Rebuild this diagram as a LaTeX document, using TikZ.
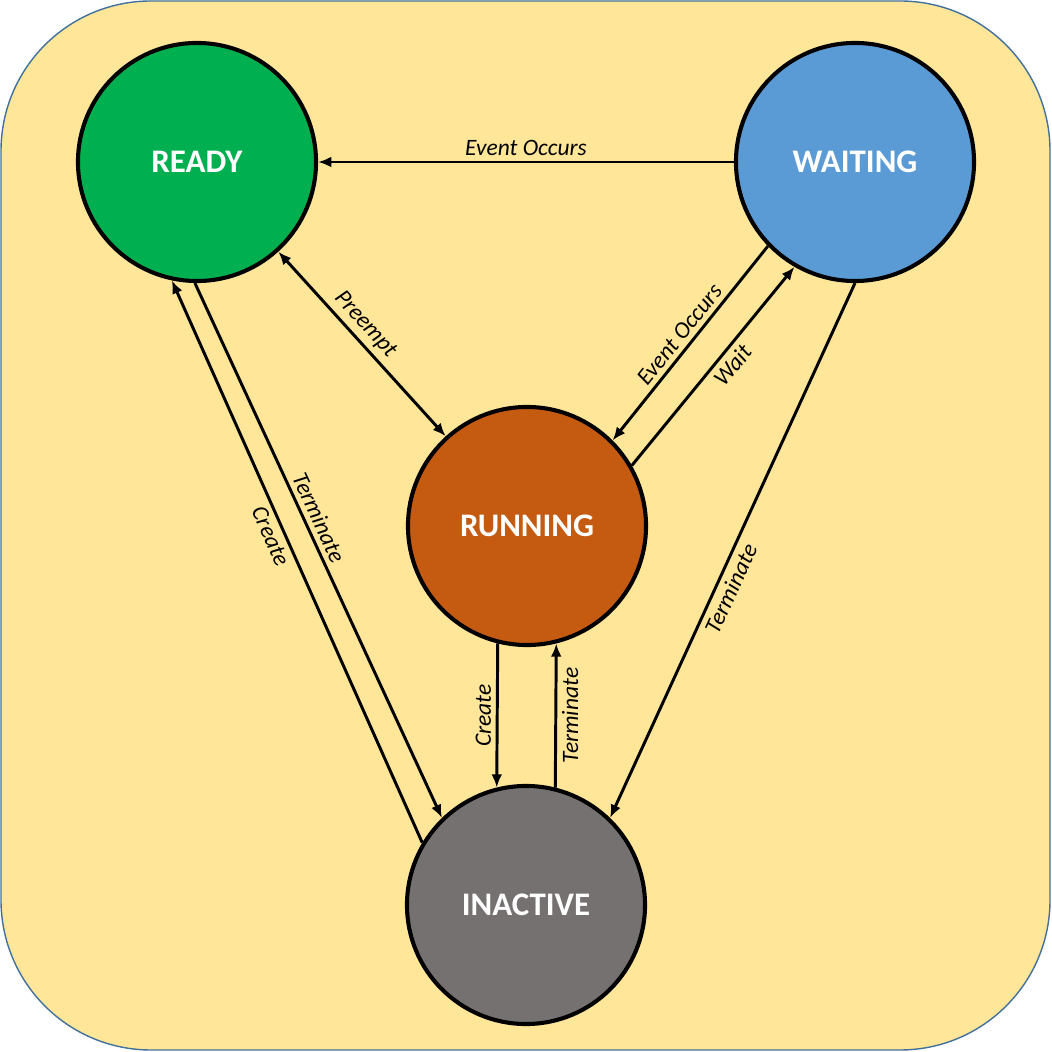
\documentclass[tikz,border=0pt]{standalone}
\usepackage{fontspec}
\setmainfont{Carlito}
\usetikzlibrary{arrows.meta}

\definecolor{panelyellow}{HTML}{FFE699}
\definecolor{panelblue}{HTML}{41719C}
\definecolor{readygreen}{HTML}{00B050}
\definecolor{waitingblue}{HTML}{5B9BD5}
\definecolor{runningorange}{HTML}{C55A11}
\definecolor{inactivegray}{HTML}{767171}

\begin{document}
\begin{tikzpicture}[x=0.025cm, y=0.025cm,
    >={Latex[length=0.33cm,width=0.27cm]},
    state/.style={circle, draw=black, line width=2.9pt, minimum size=5.95cm,
        text=white, font=\fontsize{23.4}{28}\selectfont\bfseries},
    trans/.style={line width=2.1pt},
    lbl/.style={font=\fontsize{16.7}{20}\selectfont\itshape, sloped},
    vlbl/.style={font=\fontsize{16.7}{20}\selectfont\itshape, rotate=90}]
    % Fix the page size
    \useasboundingbox (0,0) rectangle (1052,1052);

    % Shade the panel
    \draw[fill=panelyellow, draw=panelblue, line width=1pt, rounded corners=3.75cm] (1,2) rectangle (1050,1051);

    % Place the states
    \node[state, fill=readygreen] (ready) at (197,890) {READY};
    \node[state, fill=waitingblue] (waiting) at (855,890) {WAITING};
    \node[state, fill=runningorange] (running) at (527,526) {RUNNING};
    \node[state, fill=inactivegray] (inactive) at (526,147) {INACTIVE};

    % Transitions between ready, waiting and running
    \draw[trans, ->] (waiting) -- node[lbl, above] {Event Occurs} (ready);
    \draw[trans, <->] (ready) -- node[lbl, above, pos=0.45] {Preempt} (running);
    \draw[trans, ->] (waiting.224) -- node[lbl, above] {Event Occurs} (running.45);
    \draw[trans, ->] (running.30) -- node[lbl, below, pos=0.55] {Wait} (waiting.240);

    % Transitions to and from inactive
    \draw[trans, ->] (waiting.270) -- node[lbl, below, pos=0.56] {Terminate} (inactive.46);
    \draw[trans, ->] (running.256) -- node[vlbl, anchor=south] {Create} (inactive.104);
    \draw[trans, ->] (inactive.76) -- node[vlbl, anchor=north] {Terminate} (running.284);
    \draw[trans, ->] (ready.269) -- node[lbl, above, pos=0.45] {Terminate} (inactive.134);
    \draw[trans, ->] (inactive.149) -- node[lbl, below, pos=0.555] {Create} (ready.258);
\end{tikzpicture}
\end{document}
